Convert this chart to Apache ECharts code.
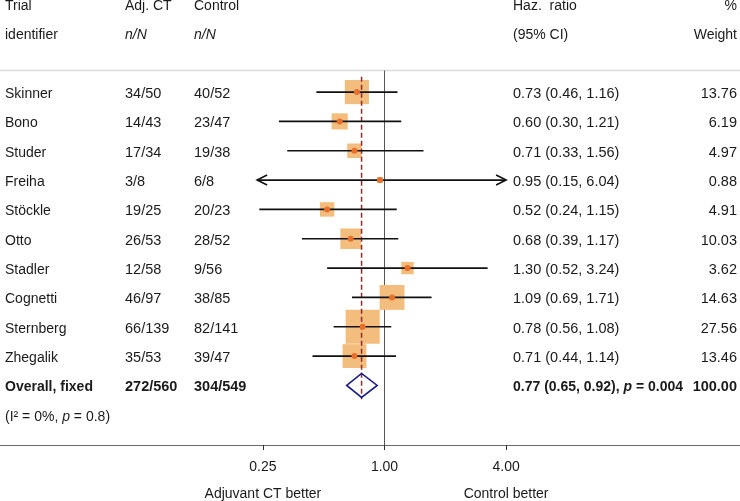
<!DOCTYPE html>
<html><head><meta charset="utf-8">
<script src="https://cdn.jsdelivr.net/npm/echarts@6/dist/echarts.min.js"></script>
<style>html,body{margin:0;padding:0;background:#fff}#c{width:740px;height:501px}</style>
</head><body><div id="c"></div>
<script>
// ---------------- data ----------------
const trials  = ['Skinner','Bono','Studer','Freiha','Stöckle','Otto','Stadler','Cognetti','Sternberg','Zhegalik'];
const adjCT   = ['34/50','14/43','17/34','3/8','19/25','26/53','12/58','46/97','66/139','35/53'];
const control = ['40/52','23/47','19/38','6/8','20/23','28/52','9/56','38/85','82/141','39/47'];
const hr      = [0.73,0.60,0.71,0.95,0.52,0.68,1.30,1.09,0.78,0.71];
const hrLo    = [0.46,0.30,0.33,0.15,0.24,0.39,0.52,0.69,0.56,0.44];
const hrHi    = [1.16,1.21,1.56,6.04,1.15,1.17,3.24,1.71,1.08,1.14];
const weight  = [13.76,6.19,4.97,0.88,4.91,10.03,3.62,14.63,27.56,13.46];
const overallLabel = 'Overall, fixed';
const overallAdj = '272/560';
const overallCtrl = '304/549';
const overallHR = [0.77, 0.65, 0.92];   // estimate, lower, upper
const overallP = '0.004';
const overallWeight = '100.00';
const heterogeneity = ['0%', '0.8'];    // I², p
const tickValues = [0.25, 1, 4];
const tickLabels = ['0.25', '1.00', '4.00'];
const sideLabels = ['Adjuvant CT better', '', 'Control better'];
const ciClip = [0.234, 4.0];

// ---------------- layout ----------------
const FONT = '"Liberation Sans", Arial, sans-serif';
const TXT = '#1a1a1a';
const log2 = Math.log2;
const nRows = trials.length;
const rows = trials.map((_, i) => i);
const overallRow = nRows;
const hetRow = nRows + 1;
const headRow1 = -2.93, headRow2 = -1.94, sepRow = -0.735;
const colName = 5, colAdj = 125, colCtrl = 194, colHR = 513, colW = 737;

function fmt(v){ return v.toFixed(2); }

function textSeries(xPos, rowList, texts, align, opt) {
  opt = opt || {};
  const dy = opt.dy === undefined ? 2 : opt.dy;
  return {
    type: 'custom', xAxisIndex: 1, yAxisIndex: 0, silent: true, z: 10,
    data: rowList.map(r => [xPos, r]),
    renderItem: function (params, api) {
      const p = api.coord([api.value(0), api.value(1)]);
      return {
        type: 'text', x: p[0], y: p[1] + dy,
        style: {
          text: texts[params.dataIndex],
          align: align, verticalAlign: 'middle',
          fontFamily: FONT, fontSize: opt.size || 14,
          fontWeight: opt.bold ? 'bold' : 'normal',
          fontStyle: opt.italic ? 'italic' : 'normal',
          fill: TXT,
          rich: opt.rich
        }
      };
    }
  };
}

const richBase = (size, bold) => ({
  n: {fontFamily: FONT, fontSize: size, fontWeight: bold ? 'bold' : 'normal', fill: TXT, color: TXT},
  i: {fontFamily: FONT, fontSize: size, fontWeight: bold ? 'bold' : 'normal', fontStyle: 'italic', fill: TXT, color: TXT}
});

const hrTexts = hr.map((v, i) => `${fmt(v)} (${fmt(hrLo[i])}, ${fmt(hrHi[i])})`);
const overallHRText = `{n|${fmt(overallHR[0])} (${fmt(overallHR[1])}, ${fmt(overallHR[2])}),}{i| p}{n| = ${overallP}}`;
const hetText = `{n|(I² = ${heterogeneity[0]},}{i| p}{n| = ${heterogeneity[1]})}`;

const series = [
  // top separator line
  { type: 'line', xAxisIndex: 1, yAxisIndex: 0, symbol: 'none', silent: true, z: 1,
    data: [[0, sepRow], [740, sepRow]], lineStyle: {color: '#dcdcdc', width: 1.5} },
  // null line at HR = 1
  { type: 'line', xAxisIndex: 0, yAxisIndex: 0, symbol: 'none', silent: true, z: 2,
    data: [[log2(1), sepRow], [log2(1), 12.031]], lineStyle: {color: '#555', width: 1} },
  // boxes
  { type: 'scatter', xAxisIndex: 0, yAxisIndex: 0, symbol: 'rect', silent: true, z: 3,
    data: hr.map((v, i) => [log2(v), i, weight[i]]),
    symbolSize: val => 6.5 * Math.sqrt(val[2]),
    itemStyle: {color: '#F3BE7D', opacity: 1} },
  // overall dashed line
  { type: 'line', xAxisIndex: 0, yAxisIndex: 0, symbol: 'none', silent: true, z: 4,
    data: [[log2(overallHR[0]), -0.52], [log2(overallHR[0]), 10.47]],
    lineStyle: {color: '#8E2B2B', width: 1.5, type: [5, 3]} },
  // CI lines
  { type: 'custom', xAxisIndex: 0, yAxisIndex: 0, silent: true, z: 5,
    data: hr.map((v, i) => [log2(hrLo[i]), log2(hrHi[i]), i]),
    renderItem: function (params, api) {
      const lo = api.value(0), hi = api.value(1), r = api.value(2);
      const cl = log2(ciClip[0]), ch = log2(ciClip[1]);
      const l = Math.max(lo, cl), h = Math.min(hi, ch);
      const p1 = api.coord([l, r]), p2 = api.coord([h, r]);
      const st = {stroke: '#111', lineWidth: 1.6, fill: null};
      const children = [{type: 'line', shape: {x1: p1[0], y1: p1[1], x2: p2[0], y2: p2[1]}, style: st}];
      if (lo < cl) children.push({type: 'polyline', shape: {points: [[p1[0]+10, p1[1]-5], [p1[0], p1[1]], [p1[0]+10, p1[1]+5]]}, style: st});
      if (hi > ch) children.push({type: 'polyline', shape: {points: [[p2[0]-10, p2[1]-5], [p2[0], p2[1]], [p2[0]-10, p2[1]+5]]}, style: st});
      return {type: 'group', children: children};
    } },
  // points
  { type: 'scatter', xAxisIndex: 0, yAxisIndex: 0, symbol: 'circle', symbolSize: 6, silent: true, z: 6,
    data: hr.map((v, i) => [log2(v), i]), itemStyle: {color: '#E8702B', opacity: 1} },
  // overall diamond
  { type: 'custom', xAxisIndex: 0, yAxisIndex: 0, silent: true, z: 7,
    data: [[log2(overallHR[1]), log2(overallHR[0]), log2(overallHR[2]), overallRow]],
    renderItem: function (params, api) {
      const r = api.value(3);
      const a = api.coord([api.value(0), r]), m = api.coord([api.value(1), r]), b = api.coord([api.value(2), r]);
      return {type: 'polygon', shape: {points: [[a[0], a[1]], [m[0], m[1]-12], [b[0], b[1]], [m[0], m[1]+12]]},
              style: {stroke: '#1C1C8A', lineWidth: 1.6, fill: null}};
    } },
  // headers
  textSeries(colName, [headRow1, headRow2], ['Trial', 'identifier'], 'left', {dy: 0}),
  textSeries(colAdj, [headRow1], ['Adj. CT'], 'left', {dy: 0}),
  textSeries(colAdj, [headRow2], ['n/N'], 'left', {italic: true, dy: 0}),
  textSeries(colCtrl, [headRow1], ['Control'], 'left', {dy: 0}),
  textSeries(colCtrl, [headRow2], ['n/N'], 'left', {italic: true, dy: 0}),
  textSeries(colHR, [headRow1, headRow2], ['Haz.  ratio', '(95% CI)'], 'left', {dy: 0}),
  textSeries(colW, [headRow1, headRow2], ['%', 'Weight'], 'right', {dy: 0}),
  // rows
  textSeries(colName, rows, trials, 'left'),
  textSeries(colAdj, rows, adjCT, 'left', {size: 14.5}),
  textSeries(colCtrl, rows, control, 'left', {size: 14.5}),
  textSeries(colHR, rows, hrTexts, 'left', {size: 14.5}),
  textSeries(colW, rows, weight.map(fmt), 'right', {size: 14.5}),
  // overall
  textSeries(colName, [overallRow], [overallLabel], 'left', {bold: true}),
  textSeries(colAdj, [overallRow], [overallAdj], 'left', {bold: true, size: 14.5}),
  textSeries(colCtrl, [overallRow], [overallCtrl], 'left', {bold: true, size: 14.5}),
  textSeries(colHR, [overallRow], [overallHRText], 'left', {bold: true, size: 14, rich: richBase(14, true)}),
  textSeries(colW, [overallRow], [overallWeight], 'right', {bold: true, size: 14.5}),
  textSeries(colName, [hetRow], [hetText], 'left', {rich: richBase(14, false)})
];

const tickLog = tickValues.map(log2);

const option = {
  animation: false,
  backgroundColor: '#ffffff',
  grid: {left: 0, right: 0, top: 0, bottom: 55, containLabel: false},
  xAxis: [
    { type: 'value', min: -384.5 / 60.8, max: 355.5 / 60.8, position: 'bottom',
      splitLine: {show: false},
      axisLine: {show: true, onZero: false, lineStyle: {color: '#6a6a6a', width: 1}},
      axisTick: {show: true, customValues: tickLog, length: 5, lineStyle: {color: '#333', width: 1}},
      axisLabel: {
        show: true, customValues: tickLog, margin: 14,
        formatter: function (value) {
          const i = tickLog.findIndex(t => Math.abs(t - value) < 1e-6);
          if (i < 0) return '';
          return '{t|' + tickLabels[i] + '}' + (sideLabels[i] ? '\n{s|' + sideLabels[i] + '}' : '');
        },
        rich: {
          t: {fontFamily: FONT, fontSize: 14, color: TXT, lineHeight: 16},
          s: {fontFamily: FONT, fontSize: 14, color: TXT, lineHeight: 38}
        }
      } },
    { type: 'value', min: 0, max: 740, show: false }
  ],
  yAxis: [
    { type: 'value', inverse: true, min: -3.139, max: 12.031, show: false }
  ],
  series: series
};

const chart = echarts.init(document.getElementById('c'), null, {renderer: 'canvas'});
chart.setOption(option);
</script>
</body></html>
